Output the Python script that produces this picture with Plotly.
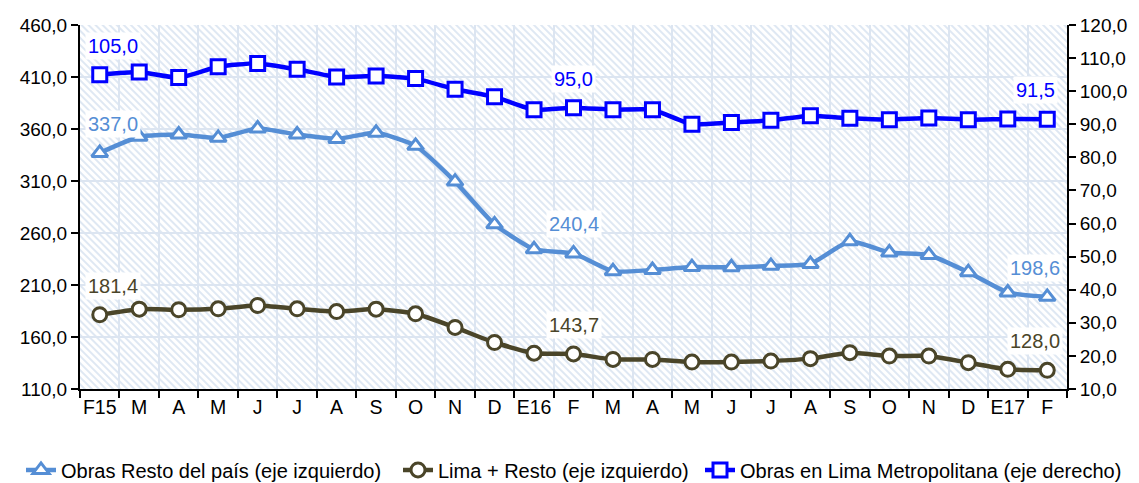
import base64
import plotly.graph_objects as go

months = ["F15", "M", "A", "M", "J", "J", "A", "S", "O", "N", "D", "E16",
          "F", "M", "A", "M", "J", "J", "A", "S", "O", "N", "D", "E17", "F"]

obras_resto = [337.0, 352.5, 354.7, 351.5, 360.5, 354.7, 350.5, 356.4, 343.8, 309.4,
               268.3, 244.3, 240.4, 223.2, 224.4, 227.2, 227.1, 228.4, 230.3, 252.0,
               241.2, 238.9, 222.3, 202.8, 198.6]
lima_resto = [181.4, 186.8, 186.2, 187.1, 190.3, 187.1, 184.5, 186.8, 182.3, 169.2,
              154.7, 144.4, 143.7, 138.4, 138.4, 135.9, 135.9, 136.9, 139.2, 144.9,
              141.7, 141.7, 135.3, 128.9, 128.0]
lima_metro = [105.0, 105.8, 104.1, 107.4, 108.4, 106.6, 104.3, 104.6, 103.8, 100.6,
              98.3, 94.4, 95.0, 94.4, 94.4, 90.0, 90.5, 91.2, 92.6, 91.8,
              91.4, 91.9, 91.4, 91.6, 91.5]

names = ["Obras Resto del país (eje izquierdo)",
         "Lima + Resto (eje izquierdo)",
         "Obras en Lima Metropolitana (eje derecho)"]
labeled_idx = [0, 12, 24]

C_RESTO = "#558ED5"
C_LIMA_RESTO = "#4A4529"
C_METRO = "#0000FF"
FONT = "Liberation Sans, Arial, sans-serif"

x = list(range(len(months)))

fig = go.Figure()

fig.add_trace(go.Scatter(
    x=x, y=obras_resto, name=names[0], mode="lines+markers", legend="legend",
    line=dict(color=C_RESTO, width=4.5, shape="spline", smoothing=0.5),
    marker=dict(symbol="triangle-up", size=14, color="white",
                line=dict(color=C_RESTO, width=3)),
))
fig.add_trace(go.Scatter(
    x=x, y=lima_resto, name=names[1], mode="lines+markers", legend="legend2",
    line=dict(color=C_LIMA_RESTO, width=4.5, shape="spline", smoothing=0.5),
    marker=dict(symbol="circle", size=14, color="white",
                line=dict(color=C_LIMA_RESTO, width=3)),
))
fig.add_trace(go.Scatter(
    x=x, y=lima_metro, name=names[2], mode="lines+markers", yaxis="y2", legend="legend3",
    line=dict(color=C_METRO, width=4.5, shape="spline", smoothing=0.5),
    marker=dict(symbol="square", size=14, color="white",
                line=dict(color=C_METRO, width=3)),
))


def fmt(v):
    return f"{v:.1f}".replace(".", ",")


annotations = []
series = [(obras_resto, C_RESTO, "y"), (lima_resto, C_LIMA_RESTO, "y"), (lima_metro, C_METRO, "y2")]
for vals, col, yref in series:
    for i in labeled_idx:
        xs = 13 if i == 0 else (-12 if i == len(months) - 1 else 0)
        annotations.append(dict(
            x=x[i], y=vals[i], xref="x", yref=yref, text=fmt(vals[i]),
            showarrow=False, yshift=29, xshift=xs,
            font=dict(family=FONT, size=20, color=col),
            bgcolor="white", borderpad=2,
        ))

# hatched plot-area background (decoration)
svg = ('<svg xmlns="http://www.w3.org/2000/svg" width="987" height="364">'
       '<defs><pattern id="p" width="5" height="5" patternUnits="userSpaceOnUse" '
       'patternTransform="rotate(-45)">'
       '<rect width="5" height="5" fill="white"/>'
       '<rect width="2" height="5" fill="#dfe8f3"/></pattern></defs>'
       '<rect width="100%" height="100%" fill="url(#p)"/></svg>')
src = "data:image/svg+xml;base64," + base64.b64encode(svg.encode()).decode()


def legend_at(xpos):
    return dict(orientation="h", x=xpos, xanchor="left", xref="container",
                y=0.027, yanchor="middle", yref="container",
                font=dict(family=FONT, size=20, color="black"),
                bgcolor="rgba(0,0,0,0)", borderwidth=0)


fig.update_layout(
    width=1139, height=483,
    margin=dict(l=80, r=72, t=25, b=94),
    paper_bgcolor="white", plot_bgcolor="white",
    separators=",.",
    font=dict(family=FONT, size=18, color="black"),
    showlegend=True,
    legend=legend_at(21 / 1139),
    legend2=legend_at(398 / 1139),
    legend3=legend_at(700 / 1139),
    annotations=annotations,
    images=[dict(source=src, xref="paper", yref="paper", x=0, y=1, sizex=1, sizey=1,
                 sizing="stretch", layer="below", xanchor="left", yanchor="top")],
    xaxis=dict(
        range=[-0.5, len(months) - 0.5],
        tickmode="array", tickvals=x, ticktext=months,
        ticks="", showgrid=False, zeroline=False,
        showline=True, linecolor="black", linewidth=2,
        tickfont=dict(family=FONT, size=19.5, color="black"),
        minor=dict(tick0=-0.5, dtick=1, ticks="outside", ticklen=7, tickwidth=2,
                   tickcolor="black", showgrid=True, gridcolor="#dce5f1", gridwidth=2),
    ),
    yaxis=dict(
        range=[110, 460], tick0=110, dtick=50, tickformat=".1f",
        ticks="outside", ticklen=7, tickwidth=2, tickcolor="black",
        showline=True, linecolor="black", linewidth=2,
        showgrid=True, gridcolor="#dce5f1", gridwidth=2, zeroline=False,
        tickfont=dict(family=FONT, size=19, color="black"),
    ),
    yaxis2=dict(
        range=[10, 120], tick0=10, dtick=10, tickformat=".1f",
        overlaying="y", side="right",
        ticks="outside", ticklen=7, tickwidth=2, tickcolor="black",
        showline=True, linecolor="black", linewidth=2,
        showgrid=False, zeroline=False,
        tickfont=dict(family=FONT, size=19, color="black"),
    ),
)

fig.write_html("out.html", config={"displayModeBar": False},
               post_script="document.body.style.margin='0px';document.body.style.overflow='hidden';")
